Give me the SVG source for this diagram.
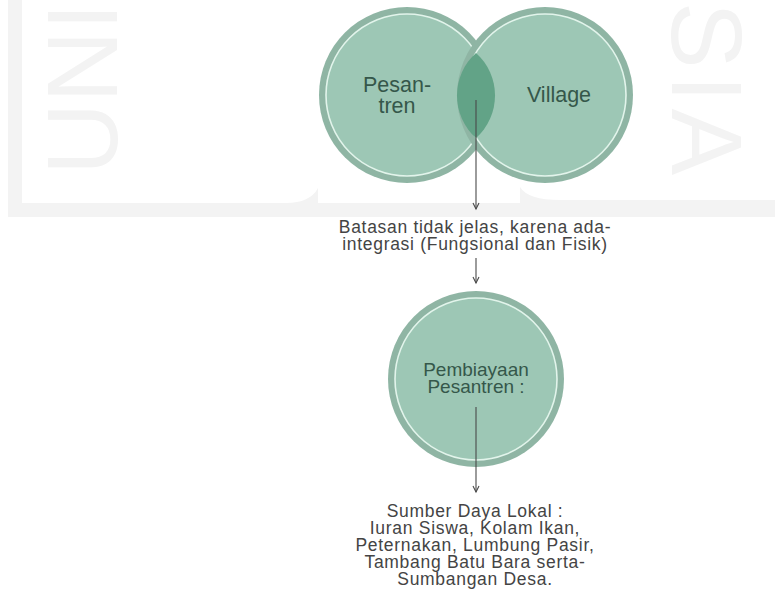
<svg xmlns="http://www.w3.org/2000/svg" width="775" height="595" viewBox="0 0 775 595">
  <defs>
    <style>
      .wm { fill: #f3f3f3; }
      .wm-txt { fill: #f3f3f3; font-family: "Liberation Sans", Arial, sans-serif; font-size: 100px; }
      .band { fill: #8fb5a4; }
      .body { fill: #9dc7b5; }
      .ring { fill: none; stroke: #e2f4eb; stroke-width: 1.6; }
      .lens { fill: #62a387; }
      .lbl { fill: #35574a; font-family: "Liberation Sans", Arial, sans-serif; text-anchor: middle; }
      .note { fill: #444444; font-family: "Liberation Sans", Arial, sans-serif; font-size: 17.5px; letter-spacing: 0.7px; text-anchor: middle; }
      .conn { stroke: #4a4a4a; stroke-width: 1.1; fill: none; }
    </style>
    <marker id="arrow" viewBox="-1 -1 9 9" refX="6.5" refY="3.5" markerWidth="9" markerHeight="9" markerUnits="userSpaceOnUse" orient="auto">
      <path d="M0.5,0.5 L6.5,3.5 L0.5,6.5" fill="none" stroke="#4a4a4a" stroke-width="1.1"/>
    </marker>
  </defs>

  <rect width="775" height="595" fill="#ffffff"/>

  <!-- background logo watermark -->
  <g id="watermark">
    <rect class="wm" x="8" y="0" width="14" height="217"/>
    <path class="wm" d="M8 203 H286 Q310 203 318 188 V217 H8 Z"/>
    <rect class="wm" x="318" y="203" width="204" height="14"/>
    <path class="wm" d="M520 187 Q528 200 560 200 H775 V217 H520 Z"/>
    <text class="wm-txt" transform="translate(117,175) rotate(-90)">UNI</text>
    <text class="wm-txt" letter-spacing="6" transform="translate(672,2) rotate(90)">SIA</text>
  </g>

  <!-- Pesantren circle -->
  <g id="node-pesantren">
    <circle class="band" cx="407" cy="95" r="88"/>
    <circle class="body" cx="407" cy="95" r="81"/>
    <circle class="ring" cx="407" cy="95" r="81"/>
  </g>

  <!-- Village circle -->
  <g id="node-village">
    <circle class="band" cx="545" cy="95" r="88"/>
    <circle class="body" cx="545" cy="95" r="81"/>
    <circle class="ring" cx="545" cy="95" r="81"/>
  </g>

  <!-- overlap of the two circles -->
  <g id="node-overlap">
    <path class="lens" d="M476 53 A57 57 0 0 1 476 138 A57 57 0 0 1 476 53 Z"/>
  </g>

  <g id="labels-top">
    <text class="lbl" font-size="21.5" x="397" y="91.5">Pesan-</text>
    <text class="lbl" font-size="21.5" x="397" y="113">tren</text>
    <text class="lbl" font-size="21.5" x="559" y="102">Village</text>
  </g>

  <!-- boundary note -->
  <g id="node-batasan">
    <text class="note" x="475" y="233">Batasan tidak jelas, karena ada-</text>
    <text class="note" x="475" y="250">integrasi (Fungsional dan Fisik)</text>
  </g>

  <!-- financing circle -->
  <g id="node-pembiayaan">
    <circle class="band" cx="476" cy="379" r="88"/>
    <circle class="body" cx="476" cy="379" r="81"/>
    <circle class="ring" cx="476" cy="379" r="81"/>
    <text class="lbl" font-size="19" x="476" y="376">Pembiayaan</text>
    <text class="lbl" font-size="19" x="476" y="393">Pesantren :</text>
  </g>

  <!-- local resources note -->
  <g id="node-sumber">
    <text class="note" x="475" y="517">Sumber Daya Lokal :</text>
    <text class="note" x="475" y="534">Iuran Siswa, Kolam Ikan,</text>
    <text class="note" x="475" y="551">Peternakan, Lumbung Pasir,</text>
    <text class="note" x="475" y="568">Tambang Batu Bara serta-</text>
    <text class="note" x="475" y="585">Sumbangan Desa.</text>
  </g>

  <!-- connectors -->
  <g id="connectors">
    <line class="conn" x1="476" y1="100" x2="476" y2="209" marker-end="url(#arrow)"/>
    <line class="conn" x1="476" y1="258" x2="476" y2="283" marker-end="url(#arrow)"/>
    <line class="conn" x1="476" y1="407" x2="476" y2="492" marker-end="url(#arrow)"/>
  </g>
</svg>
